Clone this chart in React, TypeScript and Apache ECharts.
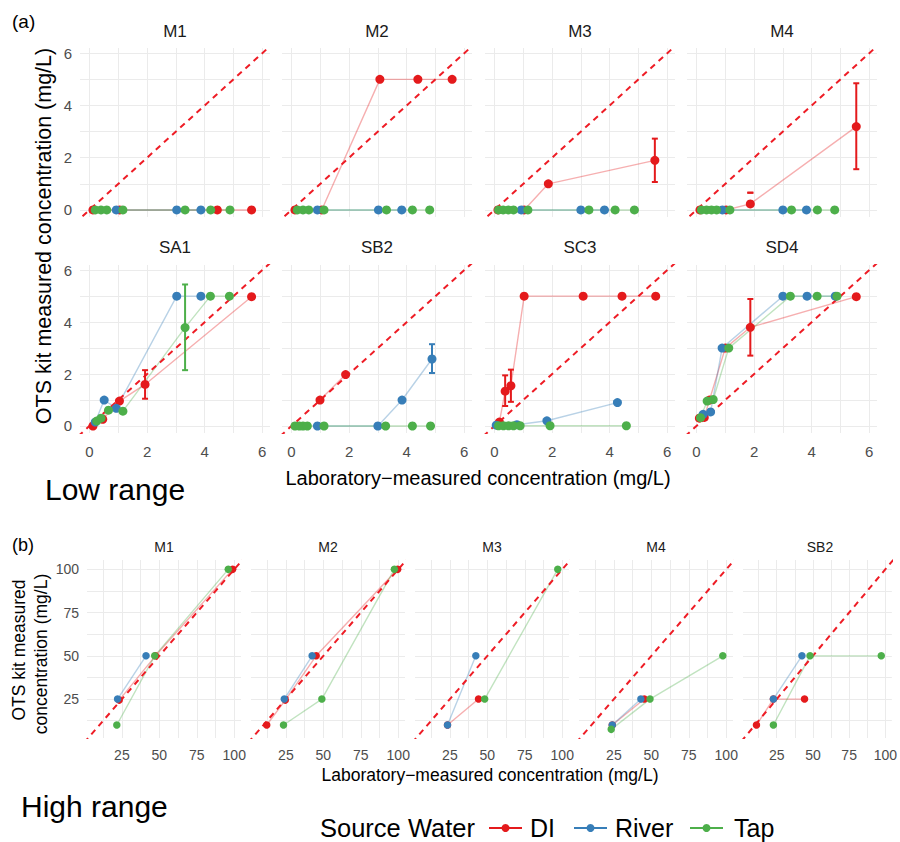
import React, { useEffect, useRef } from "react";
import * as echarts from "echarts";

// ---------------- data ----------------
const sources = ["DI", "River", "Tap"];
const sourceColors = ["#E41A1C", "#377EB8", "#4DAF4A"];

const lowPanels = ["M1", "M2", "M3", "M4", "SA1", "SB2", "SC3", "SD4"];
const highPanels = ["M1", "M2", "M3", "M4", "SB2"];

const lowTickLabels = [0, 2, 4, 6];
const lowGridValues = [0, 1, 2, 3, 4, 5, 6];
const highTickLabels = [25, 50, 75, 100];
const highGridValues = [12.5, 25, 37.5, 50, 62.5, 75, 87.5, 100];

// Low range: [laboratory, OTS kit]
const lowM1DI = [[0.12, 0], [1.05, 0], [4.44, 0], [5.63, 0]];
const lowM1River = [[0.93, 0], [3.03, 0], [3.87, 0]];
const lowM1Tap = [[0.2, 0], [0.4, 0], [0.6, 0], [1.16, 0], [3.32, 0], [4.21, 0], [4.88, 0]];

const lowM2DI = [[0.12, 0], [1.05, 0], [3.07, 5], [4.39, 5], [5.58, 5]];
const lowM2River = [[0.9, 0], [3.02, 0], [3.83, 0]];
const lowM2Tap = [[0.2, 0], [0.4, 0], [0.6, 0], [1.13, 0], [3.3, 0], [4.2, 0], [4.8, 0]];

const lowM3DI = [[0.12, 0], [1.03, 0], [1.87, 1.0], [5.57, 1.9]];
const lowM3River = [[0.93, 0], [3.0, 0], [3.82, 0]];
const lowM3Tap = [[0.14, 0], [0.3, 0], [0.48, 0], [0.66, 0], [1.16, 0], [3.28, 0], [4.19, 0], [4.86, 0]];

const lowM4DI = [[0.12, 0], [1.03, 0], [1.87, 0.23], [5.55, 3.19]];
const lowM4River = [[0.9, 0], [3.0, 0], [3.82, 0]];
const lowM4Tap = [[0.17, 0], [0.35, 0], [0.52, 0], [0.7, 0], [1.16, 0], [3.3, 0], [4.2, 0], [4.8, 0]];

const lowSA1DI = [[0.12, 0], [0.46, 0.26], [1.04, 0.96], [1.93, 1.6], [5.63, 4.98]];
const lowSA1River = [[0.2, 0.15], [0.51, 1.0], [0.93, 0.68], [3.03, 5], [3.87, 5]];
const lowSA1Tap = [[0.25, 0.19], [0.4, 0.3], [0.66, 0.61], [1.16, 0.57], [3.32, 3.79], [4.2, 5], [4.86, 5]];

const lowSB2DI = [[0.99, 1.0], [1.88, 1.98]];
const lowSB2River = [[0.9, 0], [3.0, 0], [3.84, 1.0], [4.88, 2.58]];
const lowSB2Tap = [[0.12, 0], [0.27, 0], [0.4, 0], [0.55, 0], [1.13, 0], [3.27, 0], [4.2, 0], [4.83, 0]];

const lowSC3DI = [[0.17, 0.15], [0.37, 1.34], [0.57, 1.55], [1.03, 5], [3.08, 5], [4.43, 5], [5.6, 5]];
const lowSC3River = [[0.06, 0.03], [0.78, 0.05], [1.82, 0.2], [4.27, 0.9]];
const lowSC3Tap = [[0.14, 0.01], [0.31, 0.01], [0.49, 0.01], [0.66, 0.01], [0.89, 0.01], [1.93, 0.01], [4.58, 0.01]];

const lowSD4DI = [[0.1, 0.3], [0.27, 0.33], [0.45, 1.0], [1.0, 3.0], [1.87, 3.8], [5.55, 4.98]];
const lowSD4River = [[0.23, 0.45], [0.49, 0.54], [0.89, 3.0], [3.0, 5], [3.84, 5], [4.82, 5]];
const lowSD4Tap = [[0.14, 0.32], [0.37, 0.96], [0.58, 1.02], [1.12, 3.0], [3.26, 5], [4.19, 5], [4.88, 5]];

// error bars: [panel, source, laboratory, low, high]
const lowErrorBars: [string, string, number, number, number][] = [
  ["M3", "DI", 5.57, 1.07, 2.73],
  ["M4", "DI", 1.87, 0.66, 0.66],
  ["M4", "DI", 5.55, 1.56, 4.85],
  ["SA1", "DI", 1.93, 1.05, 2.15],
  ["SA1", "Tap", 3.32, 2.15, 5.45],
  ["SB2", "River", 4.88, 2.04, 3.15],
  ["SC3", "DI", 0.37, 0.77, 1.95],
  ["SC3", "DI", 0.57, 0.93, 2.17],
  ["SD4", "DI", 1.87, 2.71, 4.89],
];

// High range
const highM1DI = [[23.2, 24.4], [47.4, 50], [98.9, 100]];
const highM1River = [[22.1, 25], [41.1, 50]];
const highM1Tap = [[21.6, 10], [46.9, 50], [96, 100]];

const highM2DI = [[12.2, 10], [24.6, 24.4], [45.2, 50], [99.6, 100]];
const highM2River = [[23.9, 25], [42.5, 50]];
const highM2Tap = [[23.4, 10], [49, 25], [97.4, 100]];

const highM3DI = [[23.4, 10], [44.1, 25]];
const highM3River = [[23.4, 10], [42.3, 50]];
const highM3Tap = [[48.2, 25], [97, 100]];

const highM4DI = [[23.9, 10], [45.3, 25]];
const highM4River = [[23.9, 10], [43, 25]];
const highM4Tap = [[23.2, 7.5], [49.1, 25], [97.7, 50]];

const highSB2DI = [[11, 10], [22.7, 25], [44.2, 25]];
const highSB2River = [[22.7, 25], [42.4, 50]];
const highSB2Tap = [[22.7, 10], [48, 50], [97.2, 50]];

const lowSeries: Record<string, number[][][]> = {
  M1: [lowM1DI, lowM1River, lowM1Tap],
  M2: [lowM2DI, lowM2River, lowM2Tap],
  M3: [lowM3DI, lowM3River, lowM3Tap],
  M4: [lowM4DI, lowM4River, lowM4Tap],
  SA1: [lowSA1DI, lowSA1River, lowSA1Tap],
  SB2: [lowSB2DI, lowSB2River, lowSB2Tap],
  SC3: [lowSC3DI, lowSC3River, lowSC3Tap],
  SD4: [lowSD4DI, lowSD4River, lowSD4Tap],
};
const highSeries: Record<string, number[][][]> = {
  M1: [highM1DI, highM1River, highM1Tap],
  M2: [highM2DI, highM2River, highM2Tap],
  M3: [highM3DI, highM3River, highM3Tap],
  M4: [highM4DI, highM4River, highM4Tap],
  SB2: [highSB2DI, highSB2River, highSB2Tap],
};

// ---------------- layout ----------------
const FONT = "'Liberation Sans', Arial, Helvetica, sans-serif";
const LOW_LEFTS = [80, 282, 485, 687];
const LOW_TOPS = [48, 265];
const LOW_W = 190;
const LOW_H = 169;
const HIGH_LEFTS = [87, 251, 415, 579, 743];
const HIGH_TOP = 560;
const HIGH_W = 154;
const HIGH_H = 178;

function buildOption() {
  const grid: any[] = [];
  const xAxis: any[] = [];
  const yAxis: any[] = [];
  const series: any[] = [];
  const graphic: any[] = [];

  const addPanel = (
    name: string,
    left: number,
    top: number,
    w: number,
    h: number,
    xr: number[],
    yr: number[],
    gridVals: number[],
    tickVals: number[],
    showX: boolean,
    showY: boolean,
    data: number[][][],
    errs: [string, string, number, number, number][],
    pointSize: number,
    labelFont: number,
    titleY: number,
    titleFont: number
  ) => {
    const gi = grid.length;
    grid.push({ left, top, width: w, height: h, containLabel: false });
    const splitLine = { show: true, lineStyle: { color: "#EBEBEB", width: 1 } };
    xAxis.push({
      gridIndex: gi,
      type: "value",
      min: xr[0],
      max: xr[1],
      axisLine: { show: false },
      axisTick: { show: false, customValues: gridVals },
      axisLabel: {
        show: showX,
        customValues: tickVals,
        color: "#4D4D4D",
        fontSize: labelFont,
        fontFamily: FONT,
        margin: showX && labelFont > 14 ? 11 : 10,
      },
      splitLine,
    });
    yAxis.push({
      gridIndex: gi,
      type: "value",
      min: yr[0],
      max: yr[1],
      axisLine: { show: false },
      axisTick: { show: false, customValues: gridVals },
      axisLabel: {
        show: showY,
        customValues: tickVals,
        color: "#4D4D4D",
        fontSize: labelFont,
        fontFamily: FONT,
        margin: 8,
      },
      splitLine,
    });
    // reference y = x
    series.push({
      type: "line",
      xAxisIndex: gi,
      yAxisIndex: gi,
      data: [
        [xr[0] - 50, xr[0] - 50],
        [xr[1] + 50, xr[1] + 50],
      ],
      clip: true,
      symbol: "none",
      silent: true,
      z: 3,
      lineStyle: { color: "#EE1C25", width: 2, type: [6, 5] },
    });
    // connecting lines
    data.forEach((pts, si) => {
      const sorted = [...pts].sort((a, b) => a[0] - b[0]);
      series.push({
        type: "line",
        xAxisIndex: gi,
        yAxisIndex: gi,
        data: sorted,
        symbol: "none",
        clip: true,
        silent: true,
        z: 2,
        lineStyle: { color: sourceColors[si], width: 1.4, opacity: 0.35 },
      });
    });
    // error bars
    sources.forEach((src, si) => {
      const ed = errs.filter((e) => e[0] === name && e[1] === src).map((e) => [e[2], e[3], e[4]]);
      if (!ed.length) return;
      const color = sourceColors[si];
      series.push({
        type: "custom",
        xAxisIndex: gi,
        yAxisIndex: gi,
        data: ed,
        z: 4,
        silent: true,
        encode: { x: 0, y: [1, 2] },
        renderItem: (params: any, api: any) => {
          const x = api.value(0);
          const a = api.coord([x, api.value(1)]);
          const b = api.coord([x, api.value(2)]);
          const cw = 3;
          const style = { stroke: color, lineWidth: 2 };
          return {
            type: "group",
            children: [
              { type: "line", shape: { x1: a[0], y1: a[1], x2: b[0], y2: b[1] }, style },
              { type: "line", shape: { x1: a[0] - cw, y1: a[1], x2: a[0] + cw, y2: a[1] }, style },
              { type: "line", shape: { x1: b[0] - cw, y1: b[1], x2: b[0] + cw, y2: b[1] }, style },
            ],
          };
        },
      });
    });
    // points
    data.forEach((pts, si) => {
      series.push({
        type: "scatter",
        name: sources[si],
        xAxisIndex: gi,
        yAxisIndex: gi,
        data: pts,
        symbol: "circle",
        symbolSize: pointSize,
        z: 5,
        itemStyle: { color: sourceColors[si], opacity: 1 },
      });
    });
    // facet title
    graphic.push({
      type: "text",
      x: left + w / 2,
      y: titleY,
      silent: true,
      style: {
        text: name,
        font: `${titleFont}px ${FONT}`,
        fill: "#1A1A1A",
        align: "center",
        verticalAlign: "middle",
      },
    });
  };

  lowPanels.forEach((p, i) => {
    const row = Math.floor(i / 4);
    const col = i % 4;
    addPanel(
      p,
      LOW_LEFTS[col],
      LOW_TOPS[row],
      LOW_W,
      row === 0 ? LOW_H : 168,
      [-0.33, 6.27],
      [-0.27, 6.2],
      lowGridValues,
      lowTickLabels,
      row === 1,
      col === 0,
      lowSeries[p],
      lowErrorBars,
      9,
      15,
      row === 0 ? 31 : 247,
      17
    );
  });

  highPanels.forEach((p, i) => {
    addPanel(
      p,
      HIGH_LEFTS[i],
      HIGH_TOP,
      HIGH_W,
      HIGH_H,
      [1.7, 104.5],
      [2.5, 105.4],
      highGridValues,
      highTickLabels,
      true,
      i === 0,
      highSeries[p],
      [],
      7.5,
      14,
      547,
      14
    );
  });

  const txt = (
    text: string,
    x: number,
    y: number,
    size: number,
    align: string = "center",
    rotation: number = 0,
    fill: string = "#000000"
  ) => ({
    type: "text",
    x,
    y,
    rotation,
    silent: true,
    style: { text, font: `${size}px ${FONT}`, fill, align, verticalAlign: "middle" },
  });

  graphic.push(txt("(a)", 12, 21, 19, "left"));
  graphic.push(txt("OTS kit measured concentration (mg/L)", 44, 236, 21.5, "center", Math.PI / 2));
  graphic.push(txt("Laboratory\u2212measured concentration (mg/L)", 478, 478, 20));
  graphic.push(txt("Low range", 45, 489, 30, "left"));

  graphic.push(txt("(b)", 12, 545, 18, "left"));
  graphic.push(txt("OTS kit measured", 19, 650, 17.5, "center", Math.PI / 2));
  graphic.push(txt("concentration (mg/L)", 41, 654, 17.5, "center", Math.PI / 2));
  graphic.push(txt("Laboratory\u2212measured concentration (mg/L)", 490, 775, 17.5));
  graphic.push(txt("High range", 21, 806, 30, "left"));

  // legend
  graphic.push(txt("Source Water", 320, 828, 25.5, "left"));
  const legendItems = [
    { label: sources[0], lx: 489, tx: 530 },
    { label: sources[1], lx: 574, tx: 615 },
    { label: sources[2], lx: 690, tx: 734 },
  ];
  legendItems.forEach((it, si) => {
    graphic.push({
      type: "line",
      silent: true,
      shape: { x1: it.lx, y1: 828, x2: it.lx + 33, y2: 828 },
      style: { stroke: sourceColors[si], lineWidth: 2 },
    });
    graphic.push({
      type: "circle",
      silent: true,
      shape: { cx: it.lx + 16.5, cy: 828, r: 4 },
      style: { fill: sourceColors[si] },
    });
    graphic.push(txt(it.label, it.tx, 828, 25, "left"));
  });

  return {
    animation: false,
    backgroundColor: "#FFFFFF",
    grid,
    xAxis,
    yAxis,
    series,
    graphic,
  };
}

export default function App() {
  const ref = useRef<HTMLDivElement>(null);
  useEffect(() => {
    if (!ref.current) return;
    const chart = echarts.init(ref.current, undefined, { renderer: "svg" });
    chart.setOption(buildOption() as any);
    return () => chart.dispose();
  }, []);
  return (
    <div
      ref={ref}
      style={{ position: "absolute", left: 0, top: 0, width: 900, height: 842, background: "#fff" }}
    />
  );
}
